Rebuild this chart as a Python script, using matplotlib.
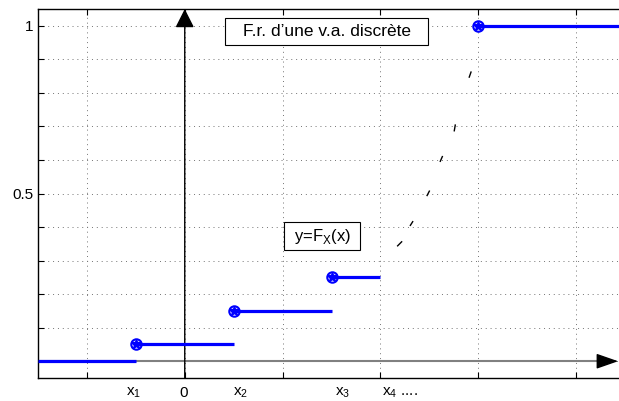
import numpy as np
import matplotlib.pyplot as plt
from matplotlib.patches import Rectangle

plt.rcParams['font.family'] = ['Liberation Sans', 'DejaVu Sans']
plt.rcParams['mathtext.fontset'] = 'custom'
plt.rcParams['mathtext.rm'] = 'Liberation Sans'

# paliers de la fonction de répartition
step_x0 = [-1.5, -0.5, 0.5, 1.5, 3.0]
step_x1 = [-0.5, 0.5, 1.5, 2.0, 4.5]
step_y = [0.0, 0.05, 0.15, 0.25, 1.0]

# petits tirets entre x4 et le dernier saut
dash_x0 = [2.176, 2.306, 2.477, 2.612, 2.755, 2.908]
dash_x1 = [2.217, 2.330, 2.500, 2.633, 2.765, 2.926]
dash_y0 = [0.344, 0.405, 0.494, 0.596, 0.687, 0.847]
dash_y1 = [0.356, 0.416, 0.507, 0.610, 0.704, 0.862]

# étiquettes sous l'axe des x
lab_x = [-0.60, -0.05, 0.49, 1.54, 2.02]
lab_txt = [r'$\mathregular{x_1}$', '0', r'$\mathregular{x_2}$',
           r'$\mathregular{x_3}$', r'$\mathregular{x_4}$ ....']

yt = np.round(np.arange(0, 1.01, 0.1), 1)
yt_lab = ['0.5' if v == 0.5 else ('1' if v == 1.0 else '') for v in yt]

fig = plt.figure(figsize=(6.19, 4.01), dpi=100)
ax = fig.add_axes([38 / 619, 23 / 401, 587 / 619, 369 / 401])
ax.set_xlim(-1.5, 4.5)
ax.set_ylim(-0.05, 1.05)

ax.set_xticks(np.arange(-1, 5))
ax.set_xticklabels([])
ax.set_yticks(yt)
ax.set_yticklabels(yt_lab)
ax.tick_params(axis='both', direction='in', length=4, width=0.8, labelsize=11)
ax.tick_params(axis='x', top=True)
ax.grid(True, color='0.45', linestyle=(0, (1, 4)), linewidth=0.7)
ax.spines['right'].set_visible(False)
for s in ['left', 'top', 'bottom']:
    ax.spines[s].set_linewidth(1.0)

# axe des x (gris) avec flèche
ax.plot([-1.5, 4.3], [0, 0], color='0.5', lw=1.5, zorder=2)
ax.annotate('', xy=(4.43, 0), xytext=(4.25, 0), annotation_clip=False,
            arrowprops=dict(arrowstyle='-|>,head_length=1.35,head_width=0.47',
                            color='black', lw=1.0, shrinkA=0, shrinkB=0))
# axe des y avec flèche
ax.annotate('', xy=(0, 1.05), xytext=(0, -0.05), annotation_clip=False,
            arrowprops=dict(arrowstyle='-|>,head_length=1.15,head_width=0.58',
                            color='black', lw=1.0, shrinkA=0, shrinkB=0))

for i in range(len(step_y)):
    ax.plot([step_x0[i], step_x1[i]], [step_y[i], step_y[i]],
            color='blue', lw=2.3, solid_capstyle='butt', zorder=4)
    if i > 0:
        ax.plot(step_x0[i], step_y[i], 'o', ms=7.5, mfc='none', mec='blue',
                mew=1.5, zorder=5)
        ax.plot(step_x0[i], step_y[i], '*', ms=7.5, color='blue', zorder=5)

for a, b, c, d in zip(dash_x0, dash_x1, dash_y0, dash_y1):
    ax.plot([a, b], [c, d], color='black', lw=1.0)

for x, t in zip(lab_x, lab_txt):
    ax.text(x, -0.073, t, ha='left', va='top', fontsize=11, clip_on=False)

# cadres des textes
ax.add_patch(Rectangle((0.414, 0.942), 2.076, 0.081, fc='white', ec='black',
                       lw=0.8, zorder=6))
ax.text(1.452, 0.983, 'F.r. d\u2019une v.a. discrète', ha='center', va='center',
        fontsize=12.5, zorder=7)
ax.add_patch(Rectangle((1.017, 0.331), 0.778, 0.084, fc='white', ec='black',
                       lw=0.8, zorder=6))
ax.text(1.406, 0.373, r'y=F$_\mathregular{X}$(x)', ha='center', va='center',
        fontsize=12, zorder=7)

fig.savefig('out.png', dpi=100)
